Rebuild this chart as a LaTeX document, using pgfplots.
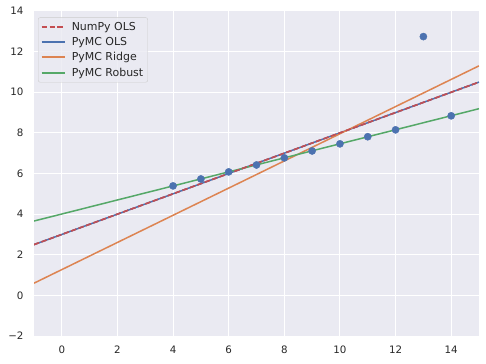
\documentclass[border=0pt]{standalone}
\usepackage{fontspec}
\setmainfont{DejaVu Sans}
\usepackage{pgfplots}
\pgfplotsset{compat=1.18}
\definecolor{bg}{HTML}{EAEAF2}
\definecolor{sblue}{HTML}{4C72B0}
\definecolor{sorange}{HTML}{DD8452}
\definecolor{sgreen}{HTML}{55A868}
\definecolor{sred}{HTML}{C44E52}
\definecolor{tick}{HTML}{262626}
\begin{document}
\begin{tikzpicture}
\path[use as bounding box] (-34bp,-28bp) rectangle (452bp,336bp);
\begin{axis}[
  scale only axis, width=445bp, height=325bp,
  xmin=-1, xmax=15, ymin=-2, ymax=14,
  xtick={0,2,...,14}, ytick={-2,0,...,14},
  yticklabels={−2,0,2,4,6,8,10,12,14},
  axis background/.style={fill=bg},
  axis line style={draw=none},
  major tick length=0pt,
  grid=major, grid style={white, line width=1bp},
  tick label style={font=\fontsize{10.3}{12}\selectfont, text=tick},
  /pgf/number format/assume math mode=true,
  xticklabel style={yshift=-6bp},
  yticklabel style={xshift=-7bp},
  legend style={at={(4bp,318.6bp)}, anchor=north west, fill=bg, fill opacity=0.8, text opacity=1, draw=black!20, rounded corners=2bp, font=\fontsize{11}{13}\selectfont, text=tick, inner sep=2.5bp, row sep=1.6bp},
  legend cell align=left,
  legend image code/.code={\draw[#1, line width=2bp] (0bp,0bp) -- (23bp,0bp); \path[draw=none] (28bp,0bp) circle (0.1bp);},
]
\addplot[only marks, mark=*, mark size=3.6bp, sblue, forget plot] coordinates {
(10,7.46) (8,6.77) (13,12.74) (9,7.11) (11,7.81) (14,8.84) (6,6.08) (4,5.39) (12,8.15) (7,6.42) (5,5.73)};
\addplot[sred, line width=1.5bp, dash pattern=on 5.5bp off 2.4bp] coordinates {(-1,2.5) (15,10.5)};
\addlegendentry{NumPy OLS}
\addplot[sblue, line width=1.5bp] coordinates {(-1,2.5) (15,10.5)};
\addlegendentry{PyMC OLS}
\addplot[sorange, line width=1.5bp] coordinates {(-1,0.60) (15,11.30)};
\addlegendentry{PyMC Ridge}
\addplot[sgreen, line width=1.5bp] coordinates {(-1,3.66) (15,9.19)};
\addlegendentry{PyMC Robust\hspace{7bp}}
\addplot[sred, line width=1.5bp, dash pattern=on 5.5bp off 2.4bp, forget plot] coordinates {(-1,2.5) (15,10.5)};
\end{axis}
\end{tikzpicture}
\end{document}
